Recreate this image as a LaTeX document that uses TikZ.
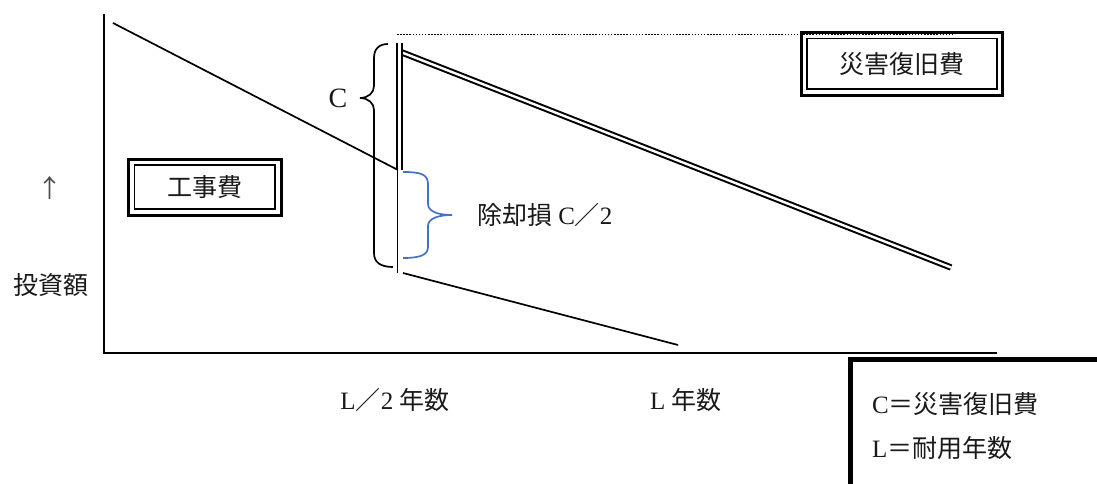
\documentclass[tikz,border=0pt]{standalone}
\usepackage{fontspec}
\setmainfont{Liberation Serif}
\newfontfamily\jp{Noto Sans CJK JP}
\definecolor{bracebl}{RGB}{68,114,196}
\definecolor{txt}{RGB}{25,25,25}
\begin{document}
\begin{tikzpicture}[x=1pt,y=-1pt,
  thinline/.style={line width=1.7pt},
  axisline/.style={line width=2.2pt},
  dbl/.style={line width=2pt, double=white, double distance=2.4pt},
  lbl/.style={font=\fontsize{25}{30}\selectfont, text=txt, inner sep=0pt, outer sep=0pt},
  outerbox/.style={draw, line width=3pt, fill=white, inner sep=0pt, outer sep=0pt, text=txt, font=\fontsize{25}{30}\selectfont},
  innerbox/.style={line width=1.6pt},
]
\path[use as bounding box] (0,0) rectangle (1097,484);
\clip (0,0) rectangle (1097,484);
\fill[white] (0,0) rectangle (1097,484);

% axes
\coordinate (ytop) at (104,14);
\coordinate (orig) at (104,353);
\coordinate (xend) at (997,353);
\draw[axisline] (ytop) -- (orig) -- (xend);

% construction cost line
\coordinate (a1) at (113,23);
\coordinate (a2) at (398,170);
\draw[thinline] (a1) -- (a2);

% vertical lines at L/2
\coordinate (v1) at (399.6,43);
\coordinate (v2) at (399.6,170);
\coordinate (t1) at (397.4,168);
\coordinate (t2) at (397.4,273);
\draw[thinline] (t1) -- (t2);

% disaster recovery double line
\coordinate (d1) at (402,52.5);
\coordinate (d2) at (951,267.5);
\draw[dbl] (d1) -- (d2);
\draw[dbl] (v1) -- (v2);

% lower line
\coordinate (l1) at (403,273);
\coordinate (l2) at (678,345);
\draw[thinline] (l1) -- (l2);

% boxes
\node[outerbox, minimum width=152.7pt, minimum height=56pt] (kj) at (204.7,187) {\jp 工事費};
\draw[innerbox] ([shift={(6.3,6)}]kj.north west) rectangle ([shift={(-6.3,-6)}]kj.south east);

\node[outerbox, minimum width=200.6pt, minimum height=62.7pt] (sg) at (902,63.7) {\jp 災害復旧費};
\draw[innerbox] ([shift={(5.3,6)}]sg.north west) rectangle ([shift={(-5.3,-6)}]sg.south east);

% dotted line
\coordinate (p1) at (397,34.5);
\coordinate (p2) at (952,34.5);
\draw[line width=1.5pt, dash pattern=on 1.5pt off 1.6pt] (p1) -- (p2);

% black brace C
\coordinate (b1) at (388,44);
\coordinate (btip) at (360,98);
\coordinate (b2) at (393,267);
\draw[thinline] (b1) .. controls (379,44) and (374,49) .. (374,58) -- (374,86)
  .. controls (374,93) and (368,98) .. (btip)
  .. controls (368,98) and (374,103) .. (374,110) -- (374,253)
  .. controls (374,262) and (380,267) .. (b2);

% blue brace
\coordinate (c1) at (403,172);
\coordinate (ctip) at (452,215);
\coordinate (c2) at (403,258);
\draw[bracebl, line width=1.7pt] (c1) .. controls (420,172) and (428,174) .. (428,184) -- (428,204)
  .. controls (428,211) and (437,215) .. (ctip)
  .. controls (437,215) and (428,219) .. (428,226) -- (428,247)
  .. controls (428,255) and (420,258) .. (c2);

% labels
\node[lbl, text=black!70] (arr) at (50,188) {\jp ↑};
\node[lbl] (tsg) at (51,285) {\jp 投資額};
\node[lbl, font=\fontsize{28}{30}\selectfont] (cl) at (338,98) {C};
\node[lbl, anchor=west] (jk) at (477,215) {{\jp 除却損} C{\jp ／}2};
\node[lbl] (lh) at (395,400) {L{\jp ／}2 {\jp 年数}};
\node[lbl] (ly) at (686,400) {L {\jp 年数}};

% legend
\coordinate (g1) at (850,359.5);
\coordinate (g2) at (1120,520);
\draw[line width=5pt] (g1) rectangle (g2);
\node[lbl, anchor=west] (lg1) at (872,404) {C{\jp ＝災害復旧費}};
\node[lbl, anchor=west] (lg2) at (872,448) {L{\jp ＝耐用年数}};
\end{tikzpicture}
\end{document}
